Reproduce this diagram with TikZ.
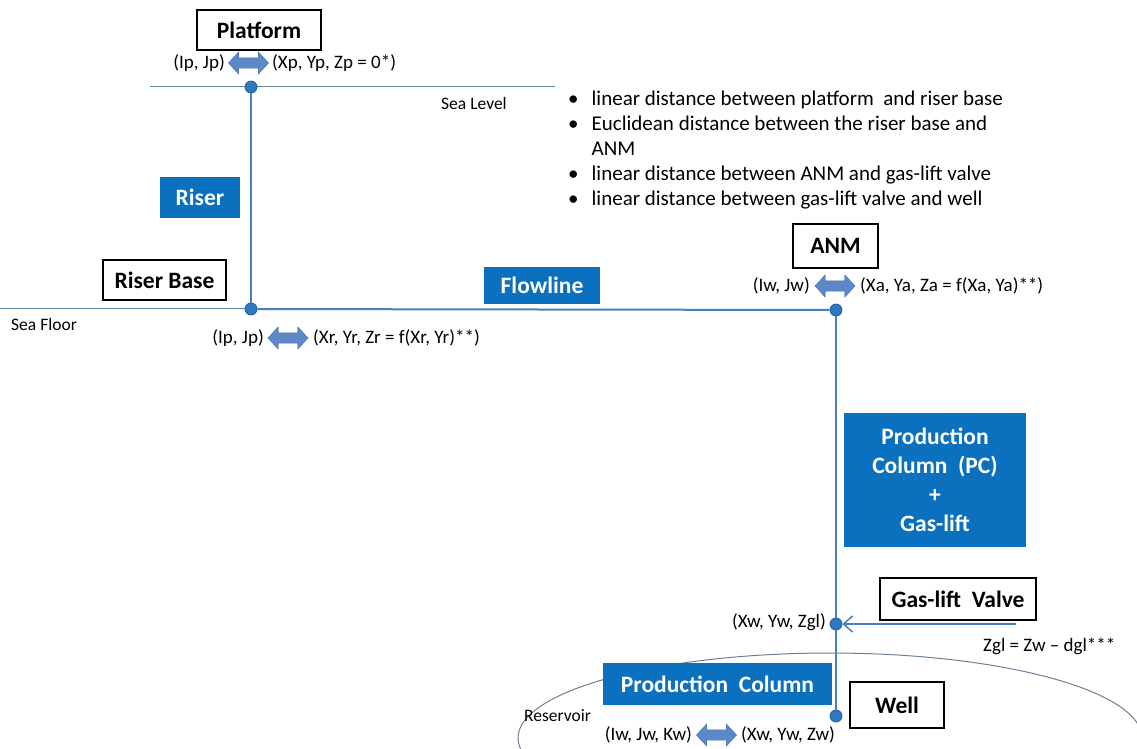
\documentclass[tikz,border=0pt]{standalone}
\usepackage{fontspec}
\setmainfont{Carlito}
\usetikzlibrary{shapes.arrows,arrows.meta}
\definecolor{boxblue}{HTML}{0B70BE}
\definecolor{linblue}{HTML}{4A7FBD}
\definecolor{dotblue}{HTML}{2F78BF}
\definecolor{dotedge}{HTML}{1D5E9E}
\definecolor{arrblue}{HTML}{5A88C8}
\definecolor{thinline}{HTML}{5F86A8}
\definecolor{resline}{HTML}{6E7F95}
\tikzset{
  whitebox/.style={draw=black, line width=1.2pt, fill=white, inner sep=0pt, font=\fontsize{23.5}{26}\selectfont\bfseries},
  bluebox/.style={fill=boxblue, text=white, inner sep=0pt, font=\fontsize{23.5}{29}\selectfont\bfseries, align=center},
  coordlab/.style={inner sep=0pt, font=\fontsize{19}{21}\selectfont},
  smalllab/.style={inner sep=0pt, font=\fontsize{17.5}{19}\selectfont},
  dblarr/.style={double arrow, fill=arrblue, draw=arrblue!80!black, line width=0.4pt, minimum height=40pt, inner xsep=0pt, inner ysep=5pt, double arrow head extend=6pt, double arrow tip angle=95},
  junction/.style={circle, fill=dotblue, draw=dotedge, line width=0.8pt, minimum size=12pt, inner sep=0pt},
  pipe/.style={draw=linblue, line width=2pt},
  surf/.style={draw=thinline, line width=1pt},
}
\begin{document}
\begin{tikzpicture}[x=1pt,y=-1pt]
\useasboundingbox (0,0) rectangle (1137,748);
% reservoir arc
\begin{scope}
\clip (0,0) rectangle (1137,748);
\draw[resline, line width=1pt] (830,738) ellipse [x radius=312, y radius=85];
\end{scope}
% surface lines
\coordinate (sl1) at (150,86);
\coordinate (sl2) at (555,86);
\draw[surf] (sl1) -- (sl2);
\coordinate (sf1) at (0,308);
\coordinate (sf2) at (251,308);
\draw[surf] (sf1) -- (sf2);
% junctions
\node[junction] (pdot) at (251,87) {};
\node[junction] (rdot) at (251,309) {};
\node[junction] (adot) at (836,310) {};
\node[junction] (gdot) at (836,624) {};
\node[junction] (wdot) at (836,716) {};
% pipes
\draw[pipe] (pdot) -- (rdot);
\draw[pipe] (rdot) -- (adot);
\draw[pipe] (adot) -- (gdot);
\draw[pipe] (gdot) -- (wdot);
\coordinate (glin) at (1016,624);
\draw[linblue, line width=1.5pt, -{Straight Barb[length=9pt,width=16pt]}] (glin) -- (gdot);
% boxes
\node[whitebox, minimum width=124pt, minimum height=40pt] (platform) at (259,30) {Platform};
\node[whitebox, minimum width=123pt, minimum height=40pt] (riserbase) at (164.5,280) {Riser Base};
\node[whitebox, minimum width=85pt, minimum height=44pt] (anm) at (835.5,246) {ANM};
\node[whitebox, minimum width=156pt, minimum height=42pt] (glv) at (958,599) {Gas-lift\ \ Valve};
\node[whitebox, minimum width=94pt, minimum height=46pt] (well) at (897,705) {Well};
\node[bluebox, minimum width=80pt, minimum height=41pt] (riser) at (200,197.5) {Riser};
\node[bluebox, minimum width=116pt, minimum height=37pt] (flowline) at (542,285.5) {Flowline};
\node[bluebox, minimum width=182pt, minimum height=134pt] (pcgl) at (935,480) {Production\\Column\ \ (PC)\\+\\Gas-lift};
\node[bluebox, minimum width=229pt, minimum height=42pt] (pc) at (717.5,684) {Production\ \ Column};
% double arrows and coordinate labels
\node[dblarr] (a1) at (248.5,63) {};
\node[coordlab, anchor=east] (l1a) at (225,63) {(Ip, Jp)};
\node[coordlab, anchor=west] (l1b) at (272,63) {(Xp, Yp, Zp = 0*)};
\node[dblarr] (a2) at (288,338) {};
\node[coordlab, anchor=east] (l2a) at (264,338) {(Ip, Jp)};
\node[coordlab, anchor=west] (l2b) at (313,338) {(Xr, Yr, Zr = f(Xr, Yr)**)};
\node[dblarr] (a3) at (835,286) {};
\node[coordlab, anchor=east] (l3a) at (810,286) {(Iw, Jw)};
\node[coordlab, anchor=west] (l3b) at (860,286) {(Xa, Ya, Za = f(Xa, Ya)**)};
\node[dblarr] (a4) at (716.5,735) {};
\node[coordlab, anchor=east] (l4a) at (692,735) {(Iw, Jw, Kw)};
\node[coordlab, anchor=west] (l4b) at (741,735) {(Xw, Yw, Zw)};
\node[coordlab, anchor=east] (zgl) at (826,622) {(Xw, Yw, Zgl)};
\node[coordlab, anchor=west] (zgleq) at (983,646) {Zgl = Zw -- dgl***};
% small labels
\node[smalllab, anchor=west] (sealevel) at (441,103) {Sea Level};
\node[smalllab, anchor=west] (seafloor) at (11,324) {Sea Floor};
\node[smalllab, anchor=west] (reservoir) at (524,716) {Reservoir};
% bullet list
\node[anchor=north west, inner sep=0pt, font=\fontsize{21}{25}\selectfont, align=left] (bullets) at (568,88) {%
\begin{tabular}{@{}l@{\hspace{13pt}}l@{}}
\textbullet & linear distance between platform\ \ and riser base\\
\textbullet & Euclidean distance between the riser base and\\
 & ANM\\
\textbullet & linear distance between ANM and gas-lift valve\\
\textbullet & linear distance between gas-lift valve and well
\end{tabular}};
\end{tikzpicture}
\end{document}
